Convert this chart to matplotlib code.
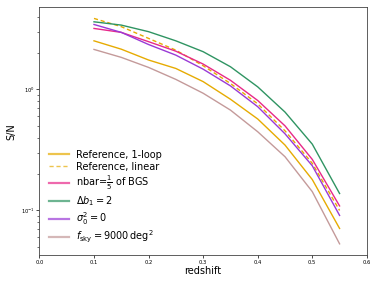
import numpy as np
import matplotlib
matplotlib.use("Agg")
import matplotlib.pyplot as plt

z = [0.1, 0.15, 0.2, 0.25, 0.3, 0.35, 0.4, 0.45, 0.5, 0.55]

sn_ref_1loop = [2.52, 2.15, 1.75, 1.49, 1.16, 0.83, 0.57, 0.347, 0.18, 0.071]
sn_ref_linear = [3.86, 3.30, 2.64, 2.11, 1.57, 1.12, 0.76, 0.455, 0.245, 0.100]
sn_nbar = [3.19, 2.96, 2.48, 2.07, 1.62, 1.19, 0.81, 0.50, 0.264, 0.109]
sn_db1 = [3.62, 3.40, 3.00, 2.52, 2.05, 1.54, 1.05, 0.65, 0.353, 0.138]
sn_sigma0 = [3.44, 2.96, 2.35, 1.92, 1.47, 1.07, 0.72, 0.43, 0.234, 0.091]
sn_fsky = [2.14, 1.84, 1.52, 1.21, 0.93, 0.675, 0.447, 0.278, 0.143, 0.053]

labels = ["Reference, 1-loop", "Reference, linear", r"nbar=$\frac{1}{5}$ of BGS",
          r"$\Delta b_1 = 2$", r"$\sigma_0^2 = 0$", r"$f_{\rm sky} = 9000\,{\rm deg}^2$"]

c_yel = "#e6ab02"
c_mag = "#e7298a"
c_grn = "#2f9462"
c_pur = "#9a3ad6"
c_pnk = "#c49a9a"

fig = plt.figure(figsize=(3.79, 2.85), dpi=100)
ax = fig.add_axes([0.104, 0.105, 0.864, 0.869])

lw = 1.0
ax.plot(z, sn_ref_1loop, color=c_yel, lw=lw, label=labels[0])
ax.plot(z, sn_ref_linear, color=c_yel, lw=lw, ls="--", dashes=(3, 2), label=labels[1])
ax.plot(z, sn_nbar, color=c_mag, lw=lw, label=labels[2])
ax.plot(z, sn_db1, color=c_grn, lw=lw, label=labels[3])
ax.plot(z, sn_sigma0, color=c_pur, lw=lw, label=labels[4])
ax.plot(z, sn_fsky, color=c_pnk, lw=lw, label=labels[5])

ax.set_yscale("log")
ax.set_xlim(0.0, 0.6)
ax.set_ylim(0.0428, 4.76)
ax.set_xlabel("redshift", fontsize=7, labelpad=1)
ax.set_ylabel("S/N", fontsize=7, labelpad=3)
ax.tick_params(axis="both", which="major", labelsize=3.8, length=2, width=0.5, pad=1.5)
ax.tick_params(axis="both", which="minor", length=1.2, width=0.4)
for s in ax.spines.values():
    s.set_linewidth(0.6)
    s.set_color("#444444")

leg = ax.legend(loc="lower left", frameon=False, fontsize=7, handlelength=2.0,
                labelspacing=0.22, borderaxespad=0.6)
for i, h in enumerate(leg.get_lines()):
    h.set_linewidth(1.0 if i == 1 else 1.6)
    h.set_alpha(0.7)

fig.savefig("out.png", dpi=100)
